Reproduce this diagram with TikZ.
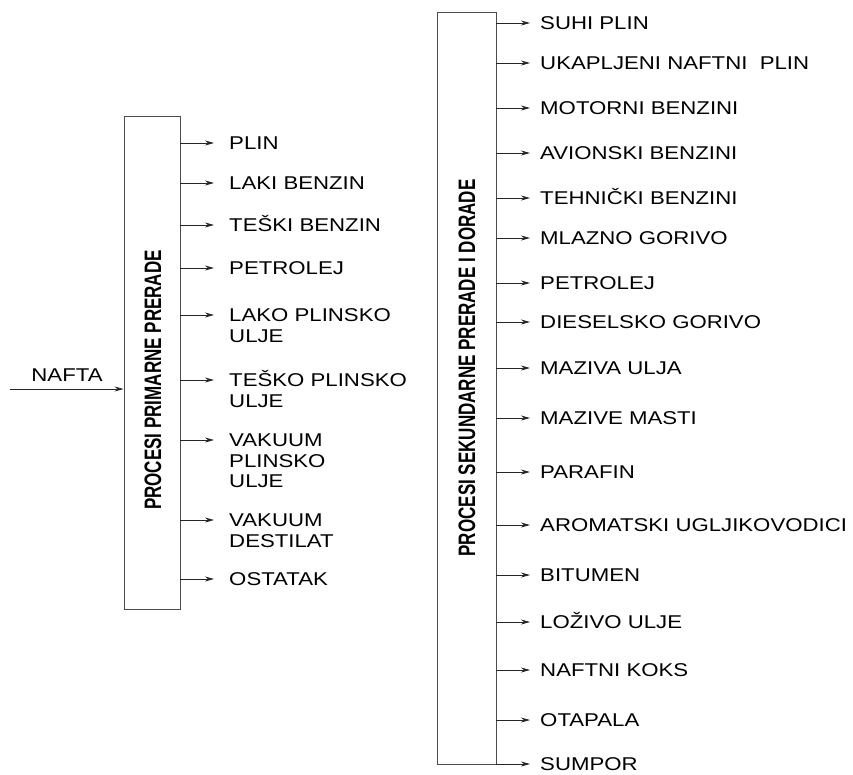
\documentclass[tikz,border=0pt]{standalone}
\usepackage{fontspec}
\setmainfont{Liberation Sans}
\usetikzlibrary{arrows.meta,positioning}

\newcommand{\lines}[1]{\begin{tabular}[t]{@{}l@{}}#1\end{tabular}}

\begin{document}
\begin{tikzpicture}[x=1pt, y=-1pt]
        \tikzset{box/.style={rectangle, draw=black!70, line width=0.9pt, inner sep=0pt}}
        \tikzset{title/.style={font=\bfseries\fontsize{17}{20}\selectfont, xscale=1.4, rotate=90}}
        \tikzset{prod/.style={anchor=base west, inner sep=0pt, font=\fontsize{18.5}{20.5}\selectfont, xscale=1.2}}
        \tikzset{flow/.style={draw=black!85, line width=0.8pt, -{Stealth[length=9pt, width=5pt]}}}

        \useasboundingbox (0,0) rectangle (853,774);

        % the two process boxes
        \node [box, minimum width=56pt, minimum height=493pt] (prim) at (152,362.5) {};
        \node [box, minimum width=59pt, minimum height=752pt] (sek) at (466.5,388) {};
        \node [title] (primtitle) at (153,380) {PROCESI PRIMARNE PRERADE};
        \node [title] (sektitle) at (467,368) {PROCESI SEKUNDARNE PRERADE I DORADE};

        % input
        \coordinate (src) at (10,389);
        \node [prod, anchor=base] (nafta) at (67,381.5) {NAFTA};
        \draw [flow] (src) -- (prim.west |- src);

        % products of primary processing
        \foreach \y/\txt [count=\i] in {143/PLIN, 183/LAKI BENZIN, 225/TEŠKI BENZIN, 268/PETROLEJ,
                315/{LAKO PLINSKO\\ULJE}, 380/{TEŠKO PLINSKO\\ULJE}, 440/{VAKUUM\\PLINSKO\\ULJE},
                520/{VAKUUM\\DESTILAT}, 579/OSTATAK} {
            \coordinate (pt\i) at (214,\y);
            \node [prod] (p\i) at (229,\y+6.6) {\lines{\txt}};
            \draw [flow] (prim.east |- pt\i) -- (pt\i);
        }

        % products of secondary processing
        \foreach \y/\txt [count=\i] in {23/SUHI PLIN, 63/{UKAPLJENI NAFTNI\ \ PLIN}, 108/MOTORNI BENZINI,
                153/AVIONSKI BENZINI, 198/TEHNIČKI BENZINI, 238/MLAZNO GORIVO, 283/PETROLEJ,
                322/DIESELSKO GORIVO, 368/MAZIVA ULJA, 418/MAZIVE MASTI, 472/PARAFIN,
                525/AROMATSKI UGLJIKOVODICI, 575/BITUMEN, 622/LOŽIVO ULJE, 670/NAFTNI KOKS,
                720/OTAPALA, 764/SUMPOR} {
            \coordinate (st\i) at (530,\y);
            \node [prod] (s\i) at (540,\y+6.4) {\txt};
            \draw [flow] (sek.east |- st\i) -- (st\i);
        }
    \end{tikzpicture}
\end{document}
